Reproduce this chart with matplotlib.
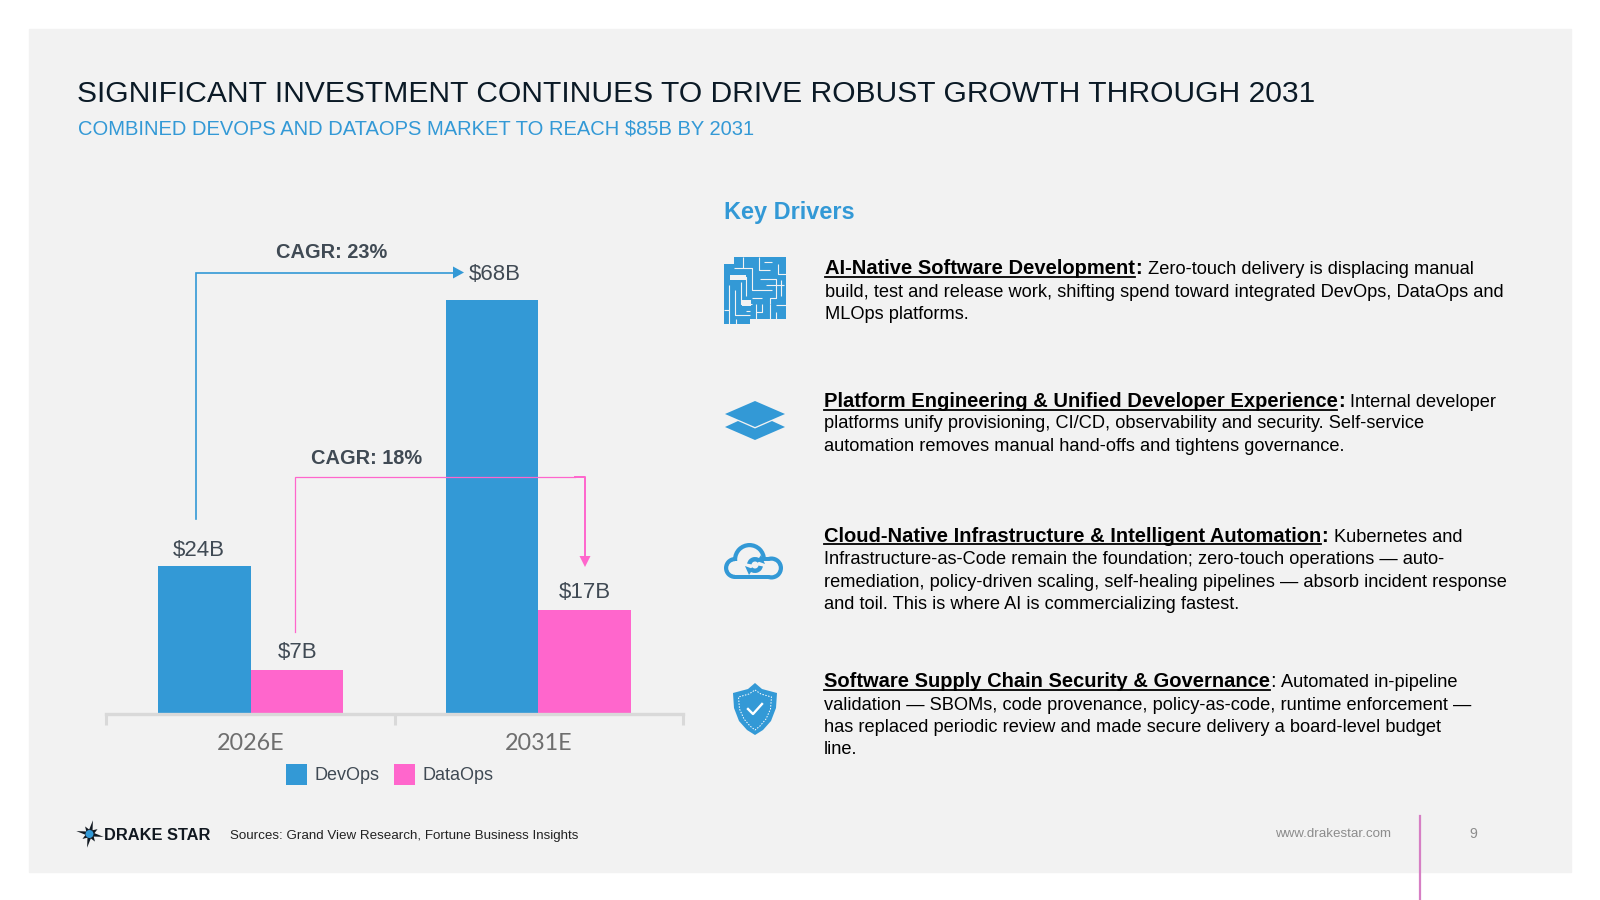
import numpy as np
from matplotlib import pyplot as plt
from matplotlib.patches import Circle, Polygon, Rectangle, Wedge

BLUE = "#3399D6"
PINK = "#FF66CC"
PANEL = "#F2F2F2"
DARK = "#404A54"

years = ["2026E", "2031E"]
devops = [24.3, 68]
dataops = [7.2, 17.1]
devops_labels = ["$24B", "$68B"]
dataops_labels = ["$7B", "$17B"]

title = "SIGNIFICANT INVESTMENT CONTINUES TO DRIVE ROBUST GROWTH THROUGH 2031"
subtitle = "COMBINED DEVOPS AND DATAOPS MARKET TO REACH $85B BY 2031"
sources = "Sources: Grand View Research, Fortune Business Insights"

# heading, colon in bold or not, rest of first line, following lines
drivers = [
    ("AI-Native Software Development", True,
     "Zero-touch delivery is displacing manual",
     ["build, test and release work, shifting spend toward integrated DevOps, DataOps and",
      "MLOps platforms."]),
    ("Platform Engineering & Unified Developer Experience", True,
     "Internal developer",
     ["platforms unify provisioning, CI/CD, observability and security. Self-service",
      "automation removes manual hand-offs and tightens governance."]),
    ("Cloud-Native Infrastructure & Intelligent Automation", True,
     "Kubernetes and",
     ["Infrastructure-as-Code remain the foundation; zero-touch operations \u2014 auto-",
      "remediation, policy-driven scaling, self-healing pipelines \u2014 absorb incident response",
      "and toil. This is where AI is commercializing fastest."]),
    ("Software Supply Chain Security & Governance", False,
     "Automated in-pipeline",
     ["validation \u2014 SBOMs, code provenance, policy-as-code, runtime enforcement \u2014",
      "has replaced periodic review and made secure delivery a board-level budget",
      "line."]),
]
driver_x = [825, 823.5, 823.5, 823.5]
driver_y = [
    [274, 297, 319],
    [407, 428.5, 451],
    [541.5, 564.5, 587, 609],
    [687, 710, 732, 754],
]

plt.rcParams["font.family"] = ["Liberation Sans", "DejaVu Sans"]
fig = plt.figure(figsize=(16, 9), dpi=100, facecolor="white")
fig.add_artist(Rectangle((29 / 1600, 1 - 872 / 900), 1542 / 1600, 843 / 900,
                         transform=fig.transFigure, color=PANEL, zorder=-5))

# chart: 287.5 px between groups, 6.09 px per $B
ax = fig.add_axes([106 / 1600, 1 - 714 / 900, 577 / 1600, 487 / 900])
ax.patch.set_alpha(0)
x = np.arange(len(years))
width = 0.322
bars_a = ax.bar(x - width / 2, devops, width, color=BLUE, label="DevOps")
bars_b = ax.bar(x + width / 2, dataops, width, color=PINK, label="DataOps")
ax.set_xlim(-0.504, 1.503)
ax.set_ylim(0, 80)
ax.set_yticks([])
ax.set_xticks([0, 1], years, family="Lato", fontsize=16.8, color="#6E6E6E")
ax.set_xticks([-0.504, 0.5, 1.503], minor=True)
ax.tick_params(axis="x", which="major", length=0, pad=13.5)
ax.tick_params(axis="x", which="minor", length=8, width=2.2, color="#D9D9D9")
for side in ["top", "left", "right"]:
    ax.spines[side].set_visible(False)
ax.spines["bottom"].set_color("#D9D9D9")
ax.spines["bottom"].set_linewidth(2.4)

for rect, text, dx, dy in zip(bars_a, devops_labels, [-5.5, 2.5], [16, 26]):
    ax.annotate(text, (rect.get_x() + rect.get_width() / 2, rect.get_height()),
                xytext=(dx * 0.72, dy * 0.72), textcoords="offset points",
                ha="center", va="center", fontsize=16, color=DARK)
for rect, text, dy in zip(bars_b, dataops_labels, [18, 17]):
    ax.annotate(text, (rect.get_x() + rect.get_width() / 2, rect.get_height()),
                xytext=(0, dy * 0.72), textcoords="offset points",
                ha="center", va="center", fontsize=16, color=DARK)

ax.legend(loc="upper left", bbox_to_anchor=(0.312, -0.102), ncol=2, frameon=False,
          fontsize=13, labelcolor=DARK, handlelength=1.18, handleheight=1.4,
          handletextpad=0.42, columnspacing=0.78, borderpad=0, borderaxespad=0)

# page overlay in pixel coordinates, y pointing down
page = fig.add_axes([0, 0, 1, 1], zorder=5)
page.set_xlim(0, 1600)
page.set_ylim(900, 0)
page.axis("off")
page.patch.set_alpha(0)

page.text(77, 94.5, title, fontsize=21.6, color="#0B1A26", va="center")
page.text(77.5, 129.5, subtitle, fontsize=14.5, color=BLUE, va="center")
page.text(724, 213, "Key Drivers", fontsize=16.9, color=BLUE, weight="bold", va="center")

# connectors
page.plot([195.5, 195.5, 455], [519, 272.5, 272.5], color=BLUE, lw=1.2, solid_joinstyle="miter")
page.add_patch(Polygon([(453, 266.5), (464, 272.5), (453, 278.5)], color=BLUE, lw=0))
page.plot([294.6, 294.6, 575], [632, 477, 477], color=PINK, lw=0.9, solid_joinstyle="miter")
page.plot([575, 585, 585], [476.5, 476.5, 558], color=PINK, lw=1.4)
page.add_patch(Polygon([(579.5, 556), (590.5, 556), (585, 567)], color=PINK, lw=0))
page.text(332, 253, "CAGR: 23%", fontsize=14.4, weight="bold", color=DARK, ha="center", va="center")
page.text(366.5, 458, "CAGR: 18%", fontsize=14.4, weight="bold", color=DARK, ha="center", va="center")


def draw_driver(x0, ys, heading, bold_colon, first, rest):
    renderer = fig.canvas.get_renderer()
    head = page.text(x0, ys[0], heading, fontsize=14.5, weight="bold", color="black", va="baseline")
    box = head.get_window_extent(renderer)
    page.plot([x0, box.x1], [ys[0] + 2.6, ys[0] + 2.6], color="black", lw=1.3)
    colon = page.text(box.x1 + 0.5, ys[0], ":", fontsize=14.5, color="black", va="baseline",
                      weight="bold" if bold_colon else "normal")
    end = colon.get_window_extent(renderer).x1
    page.text(end + 5.5, ys[0], first, fontsize=13.15, color="black", va="baseline")
    for y, line in zip(ys[1:], rest):
        page.text(x0, y, line, fontsize=13.15, color="black", va="baseline")


for x0, ys, (heading, bold_colon, first, rest) in zip(driver_x, driver_y, drivers):
    draw_driver(x0, ys, heading, bold_colon, first, rest)


def draw_maze():
    page.add_patch(Polygon([(734, 257), (786, 257), (786, 319), (750, 319), (750, 324),
                            (724, 324), (724, 264), (734, 264)], color=BLUE, lw=0))
    walls = [
        [(734, 268), (752, 268), (752, 290), (772, 290)],
        [(743, 257), (743, 268)], [(759, 257), (759, 270), (770, 270)],
        [(730, 277), (746, 277), (746, 296)], [(760, 279), (776, 279), (776, 298), (770, 298), (770, 304)],
        [(778, 264), (778, 274), (786, 274)], [(729, 285), (729, 324)],
        [(735, 290), (735, 315), (750, 315)], [(741, 282), (741, 304), (752, 304)],
        [(752, 298), (762, 298)], [(756, 304), (756, 319)], [(762, 304), (762, 312), (756, 312)],
        [(770, 304), (770, 319)], [(776, 305), (786, 305)], [(776, 312), (776, 319)],
        [(736, 319), (736, 324)], [(724, 310), (729, 310)], [(766, 285), (784, 285)],
        [(764, 262), (772, 262)], [(781, 280), (781, 296)], [(746, 311), (750, 311)],
    ]
    for wall in walls:
        xs, ys = zip(*wall)
        page.plot(xs, ys, color=PANEL, lw=0.8, solid_capstyle="butt")
    page.add_patch(Rectangle((730, 275), 16, 5, color=PANEL, lw=0))
    page.add_patch(Rectangle((742, 300), 9, 6, color=PANEL, lw=0))


def draw_layers():
    page.add_patch(Polygon([(725, 414), (755, 401), (785, 414), (755, 427)], color=BLUE, lw=0))
    page.add_patch(Polygon([(725, 427), (738, 421), (755, 428.5), (772, 421), (785, 427), (755, 440)],
                           color=BLUE, lw=0))


def draw_cloud():
    for grow, color in [(0, BLUE), (-4.2, PANEL)]:
        page.add_patch(Circle((749.5, 559.5), 16.5 + grow, color=color, lw=0))
        page.add_patch(Circle((735, 568), 11 + grow, color=color, lw=0))
        page.add_patch(Circle((771.5, 568), 11.5 + grow, color=color, lw=0))
        page.add_patch(Rectangle((735, 557 - grow), 37, 22 + grow * 2, color=color, lw=0))
    page.add_patch(Wedge((755, 565), 8, 190, 320, width=4.5, color=BLUE, lw=0))
    page.add_patch(Wedge((755, 565), 8, 10, 140, width=4.5, color=BLUE, lw=0))
    page.add_patch(Polygon([(761, 555), (765, 564), (757, 561)], color=BLUE, lw=0))
    page.add_patch(Polygon([(749, 575), (745, 566), (753, 569)], color=BLUE, lw=0))


def draw_shield():
    outline = [(755, 683), (762, 689), (777, 693), (776, 708), (771, 721), (763, 730), (755, 735),
               (747, 730), (739, 721), (734, 708), (733, 693), (748, 689)]
    page.add_patch(Polygon(outline, color=BLUE, lw=0))
    inner = [(755, 690), (761, 694), (771.5, 697), (770.5, 709), (766, 719), (760, 726), (755, 730),
             (750, 726), (744, 719), (739.5, 709), (738.5, 697), (749, 694), (755, 690)]
    xs, ys = zip(*inner)
    page.plot(xs, ys, color="white", lw=0.7, ls=(0, (1.5, 1.5)))
    page.plot([748, 753, 762], [709, 714, 704], color="white", lw=1.7)


draw_maze()
draw_layers()
draw_cloud()
draw_shield()

# footer
star = []
for i in range(16):
    r = [14, 4.5, 9, 4.5][i % 4]
    a = np.deg2rad(-78 + i * 22.5)
    star.append((90 + r * np.cos(a), 834 + r * np.sin(a)))
page.add_patch(Polygon(star, color="#111820", lw=0))
page.add_patch(Circle((89.5, 834), 4, color=BLUE, lw=0))
page.text(103.5, 835, "DRAKE STAR", fontsize=11.8, weight="bold", color="#111820", va="center")
page.text(229.5, 836, sources, fontsize=9.6, color="#222222", va="center")
page.text(1275, 834, "www.drakestar.com", fontsize=9.6, color="#8C8C8C", va="center")
page.text(1473, 834, "9", fontsize=10.2, color="#8C8C8C", va="center", ha="center")
page.plot([1420, 1420], [816, 900], color="#D67FC4", lw=1.6)

fig.savefig("out.png", dpi=100)
